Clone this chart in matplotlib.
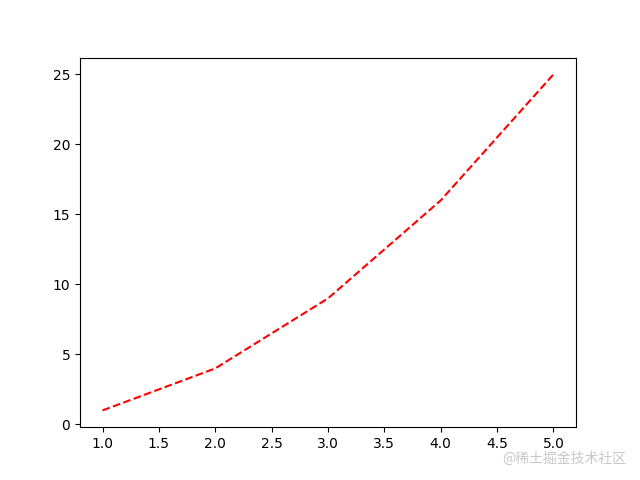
import matplotlib
matplotlib.use("Agg")
import matplotlib.pyplot as plt

x = [1, 2, 3, 4, 5]
y = [1, 4, 9, 16, 25]

fig, ax = plt.subplots(figsize=(6.4, 4.8), dpi=100)
ax.plot(x, y, 'r--')

# watermark in the bottom right corner
fig.text(0.978, 0.045, '@稀土掘金技术社区', ha='right', va='center',
         fontsize=10, color='#c8c8c8',
         family=['Noto Sans CJK SC', 'DejaVu Sans'])

fig.savefig('out.png', dpi=100)
